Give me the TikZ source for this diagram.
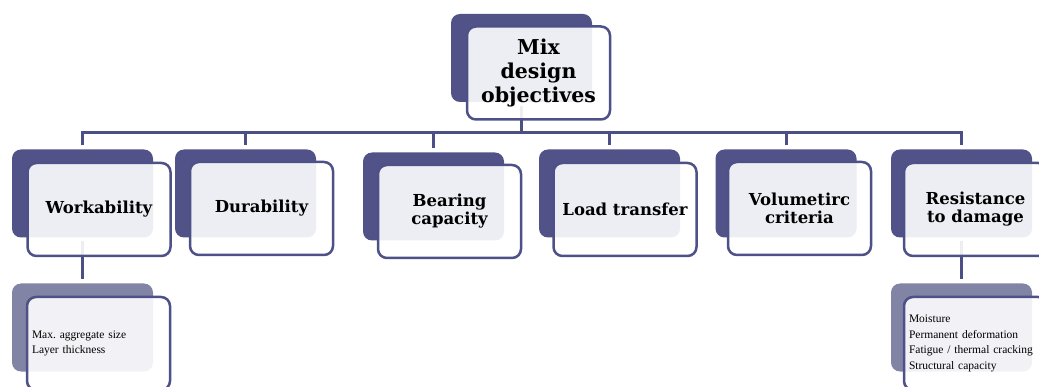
\documentclass[tikz,border=0pt]{standalone}
\usepackage{fontspec}
\setmainfont{DejaVu Serif}
\newfontfamily\notefont{Liberation Serif}
\definecolor{backc}{HTML}{515388}
\definecolor{childc}{HTML}{8284A6}
\definecolor{edgec}{HTML}{4E5088}
\definecolor{linec}{HTML}{4C4F84}
\frenchspacing
\begin{document}
\begin{tikzpicture}[x=1pt,y=-1pt,
  back/.style={fill=backc, rounded corners=9pt, minimum width=141pt,
    minimum height=88pt, inner sep=0pt, outer sep=4pt},
  childback/.style={back, fill=childc},
  front/.style={draw=edgec, line width=2.5pt, fill=white, fill opacity=0.9,
    text opacity=1, rounded corners=9pt, minimum width=143pt,
    minimum height=93pt, inner sep=2pt, align=center},
  headtext/.style={font=\bfseries\fontsize{16.5}{18}\selectfont},
  toptext/.style={font=\bfseries\fontsize{20.5}{24}\selectfont},
  notes/.style={front, align=left, text width=133pt, inner xsep=5pt,
    font=\notefont\fontsize{11.5}{15.5}\selectfont},
  conn/.style={draw=linec, line width=3pt},
]
\useasboundingbox (0,0) rectangle (1039,387);
\clip (0,0) rectangle (1039,387);

% back plates
\node[back] (mb) at (521.5,58) {};
\node[back] (wb) at (82.5,193.5) {};
\node[back] (db) at (245.5,193.5) {};
\node[back] (bb) at (433.5,196.5) {};
\node[back] (lb) at (609.5,193.5) {};
\node[back] (vb) at (786,193.5) {};
\node[back] (rb) at (961.5,193.5) {};
\node[childback] (wcb) at (82.5,327.5) {};
\node[childback] (rcb) at (961.5,327.5) {};

% tree connectors
\coordinate (bar) at (0,133);
\foreach \n in {wb,db,bb,lb,vb,rb}
  \draw[conn] (mb.south) -- (mb.south |- bar) -| (\n.north);
\draw[conn] (wb.south) -- (wcb.north);
\draw[conn] (rb.south) -- (rcb.north);

% front cards
\node[front, toptext] (mf) at (538.5,73) {Mix\\design\\objectives};
\node[front, headtext] (wf) at (99,209.5) {Workability};
\node[front, headtext] (df) at (261.5,208.5) {Durability};
\node[front, headtext] (bf) at (449.5,211.5) {Bearing\\capacity};
\node[front, headtext] (lf) at (625,209.5) {Load transfer};
\node[front, headtext] (vf) at (799.5,208.5) {Volumetirc\\criteria};
\node[front, headtext] (rf) at (975.5,209.5) {Resistance\\to damage};
\node[notes] (wcf) at (98.5,343.5) {Max. aggregate size\\Layer thickness};
\node[notes] (rcf) at (975.5,343.5) {Moisture\\Permanent deformation\\Fatigue / thermal cracking\\Structural capacity};
\end{tikzpicture}
\end{document}
